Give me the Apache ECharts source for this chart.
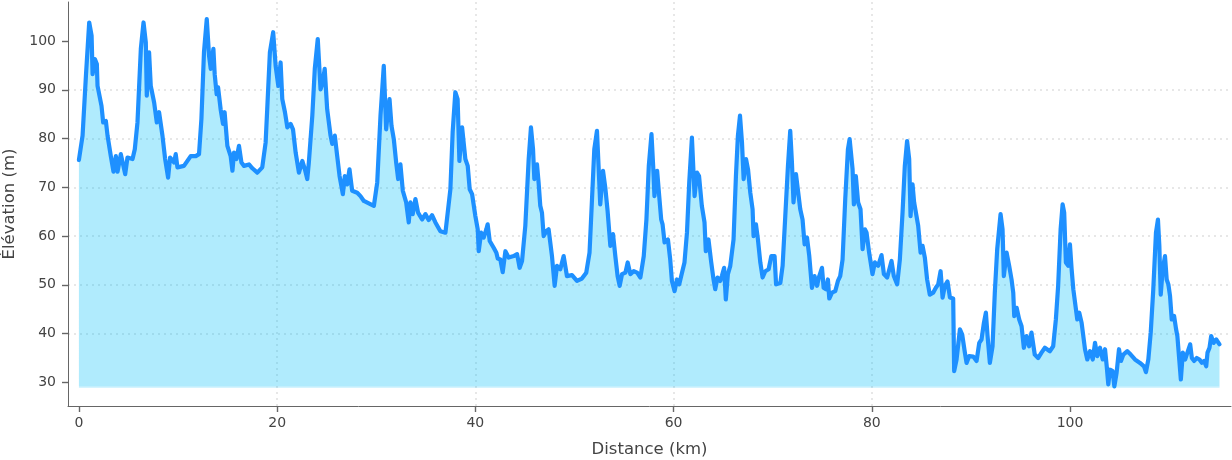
<!DOCTYPE html>
<html>
<head>
<meta charset="utf-8">
<title>Profil d'élévation</title>
<script src="https://cdn.jsdelivr.net/npm/echarts@6/dist/echarts.min.js"></script>
<style>
  html, body { margin: 0; padding: 0; background: #fff; }
  #chart { width: 1232px; height: 460px; }
</style>
</head>
<body>
<div id="chart"></div>
<script>
// distance along the route (km)
const distanceKm = [
  0.0, 0.37, 0.71, 1.04, 1.28, 1.38, 1.61, 1.81, 1.88, 2.28, 2.45, 2.72, 2.89, 3.22, 3.49, 3.73, 3.9, 4.23, 4.67, 4.9,
  5.41, 5.64, 5.91, 6.25, 6.52, 6.75, 6.85, 7.08, 7.25, 7.59, 7.86, 8.09, 8.43, 8.7, 9.0, 9.2, 9.6, 9.77, 9.94, 10.6,
  11.28, 11.79, 12.12, 12.36, 12.62, 12.9, 13.13, 13.3, 13.57, 13.7, 13.9, 14.04, 14.3, 14.54, 14.7, 14.98, 15.31, 15.49, 15.65, 15.89,
  16.15, 16.4, 16.66, 17.16, 17.5, 18.0, 18.5, 18.84, 19.0, 19.27, 19.6, 19.85, 20.12, 20.35, 20.52, 20.79, 21.03, 21.36, 21.6, 21.87,
  22.2, 22.54, 22.8, 23.04, 23.2, 23.55, 23.8, 24.1, 24.38, 24.6, 24.8, 25.05, 25.39, 25.56, 25.82, 26.06, 26.3, 26.63, 26.83, 27.07,
  27.3, 27.57, 28.08, 28.41, 28.75, 29.25, 29.76, 30.1, 30.43, 30.76, 31.0, 31.17, 31.34, 31.54, 31.77, 32.01, 32.21, 32.44, 32.68, 33.02,
  33.28, 33.45, 33.68, 33.95, 34.22, 34.63, 34.96, 35.29, 35.63, 35.97, 36.47, 36.98, 37.25, 37.48, 37.71, 37.98, 38.21, 38.39, 38.66, 38.99,
  39.23, 39.43, 39.67, 39.83, 40.0, 40.24, 40.34, 40.58, 40.84, 41.11, 41.24, 41.45, 41.85, 42.12, 42.26, 42.52, 42.76, 43.03, 43.36, 43.87,
  44.21, 44.47, 44.71, 45.04, 45.38, 45.61, 45.82, 45.95, 46.22, 46.38, 46.55, 46.72, 46.89, 47.16, 47.39, 47.73, 48.0, 48.24, 48.57, 48.91,
  49.24, 49.75, 50.25, 50.75, 51.19, 51.52, 51.77, 52.0, 52.27, 52.43, 52.6, 52.88, 53.11, 53.34, 53.62, 53.89, 54.12, 54.35, 54.56, 54.8,
  55.14, 55.37, 55.64, 55.98, 56.32, 56.65, 56.99, 57.26, 57.5, 57.77, 57.94, 58.07, 58.34, 58.55, 58.75, 58.89, 59.09, 59.43, 59.66, 59.83,
  60.1, 60.34, 60.57, 60.77, 61.1, 61.35, 61.58, 61.85, 62.12, 62.36, 62.57, 62.85, 63.12, 63.25, 63.52, 63.8, 64.03, 64.2, 64.43, 64.7,
  64.87, 65.1, 65.27, 65.48, 65.72, 66.05, 66.29, 66.49, 66.7, 66.9, 67.07, 67.31, 67.51, 67.74, 67.97, 68.07, 68.31, 68.51, 68.75, 68.98,
  69.25, 69.59, 69.86, 70.19, 70.34, 70.77, 71.0, 71.27, 71.54, 71.77, 71.94, 72.1, 72.35, 72.55, 72.78, 73.01, 73.22, 73.46, 73.69, 73.96,
  74.22, 74.47, 74.7, 74.97, 75.14, 75.37, 75.57, 75.71, 75.98, 76.31, 76.58, 76.81, 77.05, 77.32, 77.59, 77.76, 78.06, 78.19, 78.39, 78.62,
  78.86, 79.07, 79.3, 79.47, 79.73, 80.07, 80.31, 80.64, 80.98, 81.22, 81.55, 81.99, 82.22, 82.56, 82.83, 83.1, 83.33, 83.56, 83.77, 83.91,
  84.11, 84.27, 84.51, 84.68, 84.92, 85.12, 85.35, 85.58, 85.85, 86.19, 86.46, 86.7, 86.94, 87.14, 87.37, 87.64, 87.88, 88.21, 88.31, 88.55,
  88.89, 89.12, 89.39, 89.56, 89.83, 90.23, 90.57, 90.84, 91.07, 91.31, 91.51, 91.68, 91.91, 92.18, 92.41, 92.65, 92.99, 93.19, 93.32, 93.6,
  93.86, 94.1, 94.27, 94.37, 94.61, 94.87, 95.11, 95.34, 95.61, 95.87, 96.11, 96.44, 96.78, 97.12, 97.46, 97.96, 98.3, 98.57, 98.8, 99.05,
  99.25, 99.41, 99.58, 99.82, 99.99, 100.16, 100.33, 100.5, 100.73, 100.93, 101.17, 101.51, 101.74, 102.02, 102.29, 102.52, 102.75, 103.02, 103.3, 103.53,
  103.7, 103.86, 104.03, 104.3, 104.47, 104.7, 104.94, 105.14, 105.38, 105.78, 106.12, 106.55, 107.06, 107.46, 107.66, 107.9, 108.14, 108.4, 108.67, 108.87,
  109.01, 109.15, 109.35, 109.58, 109.75, 109.92, 110.09, 110.26, 110.5, 110.7, 110.83, 111.03, 111.18, 111.38, 111.61, 111.84, 112.12, 112.29, 112.52, 112.79,
  113.06, 113.3, 113.53, 113.74, 113.87, 114.07, 114.24, 114.48, 114.75, 114.92, 115.08
];

// elevation (m) at each distance
const elevationM = [
  75.6, 80.6, 92.9, 103.8, 101.1, 93.2, 96.3, 95.3, 90.8, 86.7, 83.3, 83.6, 80.6, 76.4, 73.2, 76.4, 73.2, 76.8, 72.7, 76.1,
  75.8, 77.8, 83.3, 98.4, 103.8, 99.7, 88.8, 97.7, 90.8, 87.4, 83.3, 85.4, 80.6, 75.8, 72.0, 76.1, 75.1, 76.8, 74.1, 74.4,
  76.4, 76.4, 76.8, 84.0, 97.7, 104.5, 97.0, 94.3, 98.4, 93.2, 89.1, 90.5, 86.0, 83.0, 85.4, 78.5, 76.4, 73.4, 77.1, 75.8,
  78.5, 75.1, 74.4, 74.7, 73.9, 73.0, 74.1, 79.2, 86.0, 97.7, 101.8, 94.9, 90.8, 95.6, 88.1, 85.4, 82.3, 83.0, 81.9, 77.1,
  73.0, 75.4, 73.7, 71.7, 75.1, 84.7, 94.3, 100.4, 90.1, 91.5, 94.3, 86.0, 80.6, 78.9, 80.6, 76.4, 72.3, 68.6, 72.3, 70.6,
  73.7, 69.3, 68.9, 68.2, 67.2, 66.7, 66.2, 71.0, 84.7, 94.9, 81.9, 85.4, 88.1, 82.6, 79.9, 75.1, 71.7, 74.7, 69.3, 66.9,
  62.8, 66.9, 64.5, 67.6, 64.8, 63.4, 64.5, 63.3, 64.3, 62.8, 61.0, 60.7, 65.5, 69.6, 81.3, 89.5, 88.1, 75.4, 82.3, 75.8,
  74.4, 69.6, 68.6, 68.9, 64.1, 61.4, 56.9, 60.7, 59.7, 61.4, 62.4, 59.0, 57.6, 56.6, 55.4, 55.2, 52.6, 56.9, 55.6, 55.9,
  56.3, 53.5, 54.9, 62.1, 75.8, 82.3, 77.8, 71.7, 74.7, 71.0, 66.2, 64.8, 60.0, 61.0, 61.4, 55.9, 49.8, 53.9, 53.2, 55.9,
  51.8, 52.0, 50.8, 51.3, 52.5, 56.6, 67.6, 77.8, 81.6, 74.4, 66.5, 73.4, 69.9, 65.2, 58.0, 60.4, 55.9, 51.8, 49.8, 52.2,
  52.5, 54.6, 52.2, 52.8, 52.5, 51.5, 55.9, 63.4, 74.4, 80.9, 74.4, 68.2, 73.4, 68.2, 63.4, 62.4, 58.7, 59.3, 55.2, 50.8,
  48.7, 51.1, 50.1, 51.8, 54.6, 60.7, 71.0, 80.2, 68.2, 73.0, 72.3, 66.2, 62.8, 56.9, 59.3, 54.6, 51.1, 49.1, 51.5, 50.8,
  51.8, 53.5, 47.0, 52.2, 53.9, 59.3, 72.3, 80.6, 84.7, 79.2, 71.7, 75.8, 73.7, 68.9, 65.5, 60.0, 62.4, 59.3, 54.6, 51.5,
  52.8, 53.2, 55.9, 55.9, 50.1, 50.4, 53.9, 64.1, 74.4, 81.6, 75.1, 66.9, 72.7, 72.3, 65.5, 63.4, 58.3, 59.7, 55.9, 49.4,
  51.8, 49.8, 51.8, 53.5, 49.4, 49.1, 51.1, 47.2, 48.4, 48.7, 50.8, 51.8, 55.2, 67.6, 77.8, 79.9, 73.7, 66.5, 72.3, 66.9,
  65.5, 57.3, 61.4, 60.7, 56.6, 52.2, 54.6, 53.9, 56.1, 52.2, 51.5, 54.9, 51.8, 50.1, 55.2, 64.8, 74.4, 79.5, 75.8, 64.1,
  70.6, 66.9, 64.1, 62.1, 56.6, 58.0, 55.6, 51.1, 48.0, 48.4, 49.4, 50.1, 52.8, 47.4, 49.8, 50.7, 47.4, 47.2, 32.3, 34.7,
  40.9, 39.8, 36.1, 34.0, 35.4, 35.3, 34.4, 38.1, 38.8, 42.2, 44.3, 39.5, 34.0, 37.4, 48.4, 57.3, 64.5, 61.4, 51.8, 56.6,
  53.9, 51.1, 48.4, 43.6, 45.3, 42.9, 41.5, 37.1, 39.5, 37.4, 40.2, 35.7, 35.0, 36.1, 37.1, 36.4, 37.4, 42.9, 49.8, 61.4,
  66.5, 64.8, 54.6, 53.9, 58.3, 53.2, 49.1, 49.4, 42.9, 44.3, 42.2, 36.8, 34.7, 36.4, 34.7, 38.1, 35.4, 37.1, 34.7, 36.8,
  33.3, 29.6, 32.6, 32.3, 29.2, 32.0, 36.8, 34.4, 35.7, 36.4, 35.7, 34.7, 34.0, 33.3, 32.1, 34.7, 40.2, 49.1, 60.7, 63.4,
  58.0, 48.0, 53.2, 55.9, 51.1, 50.1, 47.7, 42.9, 43.6, 40.9, 39.5, 34.4, 30.6, 36.1, 34.7, 36.1, 37.8, 35.0, 34.4, 35.0,
  34.7, 34.0, 34.4, 33.3, 36.1, 37.1, 39.5, 38.1, 38.8, 38.4, 37.8
];

const xTicks = [0, 20, 40, 60, 80, 100];
const yTicks = [30, 40, 50, 60, 70, 80, 90, 100];

const profile = distanceKm.map((d, i) => [d, elevationM[i]]);
const minElev = Math.min(...elevationM);

const FONT = 'DejaVu Sans';
const tickText = { color: '#444', fontFamily: FONT, fontSize: 14 };
const axisGray = '#666';
const gridDots = { color: '#e0e0e0', width: 1.5, type: [2, 4] };

const chart = echarts.init(document.getElementById('chart'), null, { renderer: 'canvas' });

chart.setOption({
  backgroundColor: '#fff',
  animation: false,
  grid: { left: 68, right: 1, top: 2, bottom: 54, containLabel: false, outerBoundsMode: 'none' },
  xAxis: {
    type: 'value',
    min: -1.1,
    max: 116.24,
    splitNumber: 6,
    name: 'Distance (km)',
    nameLocation: 'middle',
    nameGap: 35,
    nameTextStyle: { color: '#444', fontFamily: FONT, fontSize: 16.5 },
    axisLine: { show: true, onZero: false, lineStyle: { color: axisGray, width: 1 } },
    axisTick: { show: true, length: 6, customValues: xTicks, lineStyle: { color: axisGray, width: 1.4 } },
    axisLabel: Object.assign({ margin: 10, customValues: xTicks }, tickText),
    splitLine: { show: true, showMinLine: false, showMaxLine: false, lineStyle: gridDots }
  },
  yAxis: {
    type: 'value',
    min: 25.16,
    max: 108.0,
    splitNumber: 8,
    name: 'Élévation (m)',
    nameLocation: 'middle',
    nameGap: 49,
    nameRotate: 90,
    nameTextStyle: { color: '#444', fontFamily: FONT, fontSize: 16.5 },
    axisLine: { show: true, onZero: false, lineStyle: { color: axisGray, width: 1 } },
    axisTick: { show: true, length: 6, customValues: yTicks, lineStyle: { color: axisGray, width: 1.4 } },
    axisLabel: Object.assign({ margin: 12, customValues: yTicks }, tickText),
    splitLine: { show: true, showMinLine: false, showMaxLine: false, lineStyle: gridDots }
  },
  series: [
    {
      name: 'Élévation',
      type: 'line',
      data: profile,
      showSymbol: false,
      smooth: false,
      lineStyle: { color: '#1E90FF', width: 4.2, cap: 'round', join: 'round' },
      areaStyle: { color: 'rgba(0,189,250,0.31)', opacity: 1, origin: minElev },
      markLine: {
        silent: true,
        symbol: 'none',
        label: { show: false },
        lineStyle: { color: 'rgba(0,189,250,0.22)', width: 1.5, type: 'solid' },
        data: [
          [{ coord: [distanceKm[0], minElev] }, { coord: [distanceKm[distanceKm.length - 1], minElev] }]
        ]
      },
      z: 3
    }
  ]
});
</script>
</body>
</html>
